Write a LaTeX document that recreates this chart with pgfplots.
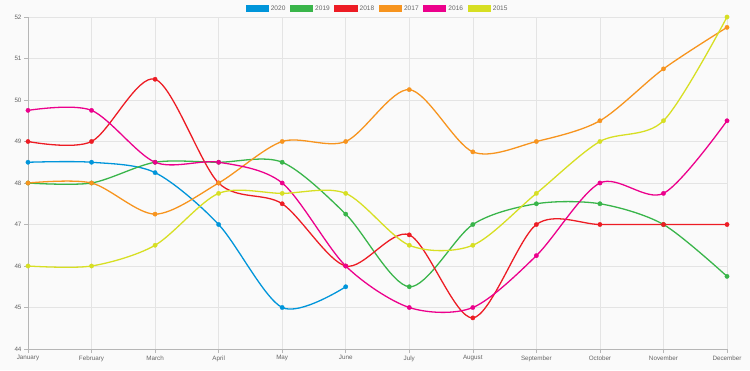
\documentclass[border=0pt]{standalone}
\usepackage{pgfplots}
\pgfplotsset{compat=1.18}
\usepackage{fontspec}
\setmainfont{Liberation Sans}
\definecolor{c2020}{RGB}{0,149,218}
\definecolor{c2019}{RGB}{57,181,74}
\definecolor{c2018}{RGB}{237,28,36}
\definecolor{c2017}{RGB}{247,148,30}
\definecolor{c2016}{RGB}{236,0,140}
\definecolor{c2015}{RGB}{215,223,35}
\definecolor{bg}{RGB}{250,250,250}
\definecolor{gridc}{RGB}{228,228,228}
\definecolor{txt}{RGB}{102,102,102}
\begin{document}
\begin{tikzpicture}[x=1bp,y=1bp]
\fill[bg] (0,0) rectangle (750,370);
\useasboundingbox (0,0) rectangle (750,370);
\begin{axis}[
  at={(28bp,21bp)}, anchor=south west,
  scale only axis, width=699bp, height=332bp,
  xmin=0, xmax=11, ymin=44, ymax=52,
  xtick={0,...,11},
  xticklabels={January,February,March,April,May,June,July,August,September,October,November,December},
  ytick={44,...,52},
  grid=major, grid style={gridc, line width=0.6pt},
  axis line style={draw=gridc!80!black, line width=0.7pt},
  axis x line*=bottom, axis y line*=left,
  tick align=outside, major tick length=4bp,
  tick style={gridc!80!black, line width=0.6pt},
  tick label style={font=\fontsize{6.3}{7}\selectfont, text=txt},
  /pgf/number format/assume math mode=true,
  xticklabel style={yshift=1bp},
  yticklabel style={xshift=1bp},
  every axis plot/.append style={line width=1.3pt, smooth, tension=0.5, mark=*, mark size=2.2bp, mark options={solid, line width=0.3pt}},
  legend style={at={(0.5,1)}, anchor=south, yshift=1bp, draw=none, fill=none, font=\fontsize{6.6}{7}\selectfont, text=txt, legend columns=6, /tikz/every even column/.append style={column sep=2.5bp}},
  legend cell align=left,
  legend image code/.code={\fill (0bp,-2.8bp) rectangle (22bp,3.2bp);},
  clip=false,
]
\addplot[c2020] coordinates {(0,48.5)(1,48.5)(2,48.25)(3,47)(4,45)(5,45.5)};
\addlegendentry{2020}
\addplot[c2019] coordinates {(0,48)(1,48)(2,48.5)(3,48.5)(4,48.5)(5,47.25)(6,45.5)(7,47)(8,47.5)(9,47.5)(10,47)(11,45.75)};
\addlegendentry{2019}
\addplot[c2018] coordinates {(0,49)(1,49)(2,50.5)(3,48)(4,47.5)(5,46)(6,46.75)(7,44.75)(8,47)(9,47)(10,47)(11,47)};
\addlegendentry{2018}
\addplot[c2017] coordinates {(0,48)(1,48)(2,47.25)(3,48)(4,49)(5,49)(6,50.25)(7,48.75)(8,49)(9,49.5)(10,50.75)(11,51.75)};
\addlegendentry{2017}
\addplot[c2016] coordinates {(0,49.75)(1,49.75)(2,48.5)(3,48.5)(4,48)(5,46)(6,45)(7,45)(8,46.25)(9,48)(10,47.75)(11,49.5)};
\addlegendentry{2016}
\addplot[c2015] coordinates {(0,46)(1,46)(2,46.5)(3,47.75)(4,47.75)(5,47.75)(6,46.5)(7,46.5)(8,47.75)(9,49)(10,49.5)(11,52)};
\addlegendentry{2015}
\end{axis}
\end{tikzpicture}
\end{document}
